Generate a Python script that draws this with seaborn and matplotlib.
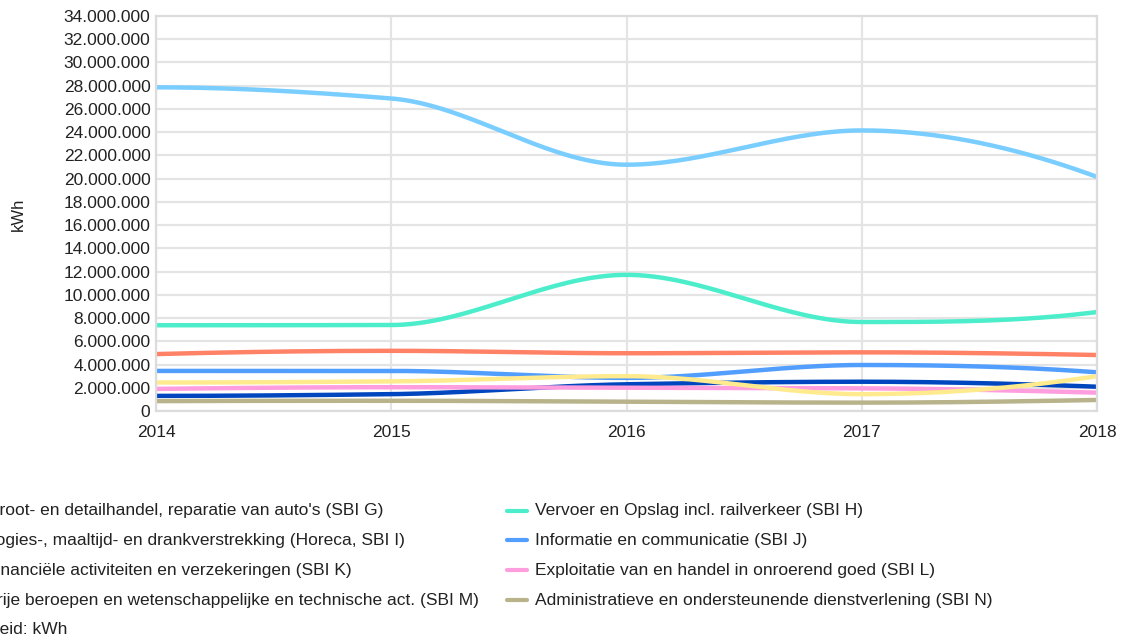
import numpy as np
import pandas as pd
import matplotlib
matplotlib.use("Agg")
import matplotlib.pyplot as plt
import seaborn as sns
from matplotlib.lines import Line2D
from matplotlib.ticker import FuncFormatter, MultipleLocator

# ---------------- data ----------------
years = [2014, 2015, 2016, 2017, 2018]

labels = [
    "Groot- en detailhandel, reparatie van auto's (SBI G)",
    "Vervoer en Opslag incl. railverkeer (SBI H)",
    "Logies-, maaltijd- en drankverstrekking (Horeca, SBI I)",
    "Informatie en communicatie (SBI J)",
    "Financiële activiteiten en verzekeringen (SBI K)",
    "Exploitatie van en handel in onroerend goed (SBI L)",
    "Vrije beroepen en wetenschappelijke en technische act. (SBI M)",
    "Administratieve en ondersteunende dienstverlening (SBI N)",
]
colors = ["#7ACEFF", "#4CEDCB", "#FF8266", "#529EFF",
          "#0046BE", "#FF9EDF", "#FFEB8E", "#B9B38C"]

sbi_g = [27_860_000, 26_900_000, 21_200_000, 24_150_000, 20_150_000]
sbi_h = [7_380_000, 7_400_000, 11_720_000, 7_660_000, 8_520_000]
sbi_i = [4_900_000, 5_180_000, 4_970_000, 5_050_000, 4_820_000]
sbi_j = [3_450_000, 3_450_000, 2_850_000, 3_960_000, 3_330_000]
sbi_k = [1_300_000, 1_450_000, 2_300_000, 2_520_000, 2_090_000]
sbi_l = [1_900_000, 2_050_000, 2_000_000, 1_950_000, 1_580_000]
sbi_m = [2_450_000, 2_550_000, 3_000_000, 1_450_000, 3_000_000]
sbi_n = [850_000, 880_000, 800_000, 720_000, 950_000]
series = [sbi_g, sbi_h, sbi_i, sbi_j, sbi_k, sbi_l, sbi_m, sbi_n]

y_ticks_max = 34_000_000
y_tick_step = 2_000_000
unit_text = "Eenheid: kWh"
y_label = "kWh"


# ---------------- monotone cubic smoothing (for drawing only) ----------------
def pchip_curve(x, y, n=60):
    x = np.asarray(x, float)
    y = np.asarray(y, float)
    h = np.diff(x)
    delta = np.diff(y) / h
    m = len(x)
    d = np.zeros(m)
    for k in range(1, m - 1):
        if delta[k - 1] * delta[k] > 0:
            w1 = 2 * h[k] + h[k - 1]
            w2 = h[k] + 2 * h[k - 1]
            d[k] = (w1 + w2) / (w1 / delta[k - 1] + w2 / delta[k])

    def end(h0, h1, d0, d1):
        v = ((2 * h0 + h1) * d0 - h0 * d1) / (h0 + h1)
        if np.sign(v) != np.sign(d0):
            return 0.0
        if np.sign(d0) != np.sign(d1) and abs(v) > 3 * abs(d0):
            return 3 * d0
        return v

    d[0] = end(h[0], h[1], delta[0], delta[1])
    d[-1] = end(h[-1], h[-2], delta[-1], delta[-2])
    xs, ys = [], []
    for k in range(m - 1):
        t = np.linspace(0, 1, n, endpoint=(k == m - 2))
        h00 = 2 * t**3 - 3 * t**2 + 1
        h10 = t**3 - 2 * t**2 + t
        h01 = -2 * t**3 + 3 * t**2
        h11 = t**3 - t**2
        xs.append(x[k] + t * h[k])
        ys.append(h00 * y[k] + h10 * h[k] * d[k] + h01 * y[k + 1] + h11 * h[k] * d[k + 1])
    return np.concatenate(xs), np.concatenate(ys)


frames = []
for lab, vals in zip(labels, series):
    xs, ys = pchip_curve(years, vals)
    frames.append(pd.DataFrame({"jaar": xs, "kWh": ys, "reeks": lab}))
df = pd.concat(frames, ignore_index=True)

# ---------------- plot ----------------
sns.set_style("white")
plt.rcParams["font.family"] = ["Liberation Sans", "DejaVu Sans"]

FS = 12.5
W, H = 1122, 641
fig = plt.figure(figsize=(W / 100, H / 100), dpi=100)
ax = fig.add_axes([156 / W, 1 - 411 / H, (1097 - 156) / W, (411 - 16) / H])

sns.lineplot(data=df, x="jaar", y="kWh", hue="reeks", hue_order=labels,
             palette=colors, linewidth=3.2, legend=False, ax=ax, sort=False,
             estimator=None)

ax.set_xlim(years[0], years[-1])
ax.set_ylim(0, y_ticks_max)
ax.yaxis.set_major_locator(MultipleLocator(y_tick_step))
ax.set_xticks(years)
ax.set_xticklabels([str(y) for y in years])
ax.yaxis.set_major_formatter(FuncFormatter(lambda v, p: f"{int(round(v)):,}".replace(",", ".")))
ax.grid(True, color="#e4e4e4", linewidth=1.6)
ax.set_axisbelow(True)
for s in ax.spines.values():
    s.set_color("#dcdcdc")
    s.set_linewidth(1.6)
ax.tick_params(axis="both", length=0, labelsize=FS, colors="#222222")
ax.tick_params(axis="x", pad=10)
ax.tick_params(axis="y", pad=4)
ax.set_xlabel("")
ax.set_ylabel("")
fig.text(18 / W, 1 - 214 / H, y_label, rotation=90, ha="center", va="center",
         fontsize=12, color="#222222")

# ---------------- legend (below, left column partially cut off as in the source) ----------------
col_x = [-42, 507]
row_y = [511, 540, 570, 600]
for i, (lab, col) in enumerate(zip(labels, colors)):
    cx = col_x[i % 2]
    cy = row_y[i // 2]
    fig.add_artist(Line2D([cx / W, (cx + 20) / W], [1 - cy / H, 1 - cy / H],
                          color=col, linewidth=3, transform=fig.transFigure))
    fig.text((cx + 28) / W, 1 - cy / H, lab, ha="left", va="center",
             fontsize=FS, color="#222222")
fig.text(-41 / W, 1 - 630 / H, unit_text, ha="left", va="center",
         fontsize=FS, color="#222222")

fig.savefig("out.png", dpi=100)
